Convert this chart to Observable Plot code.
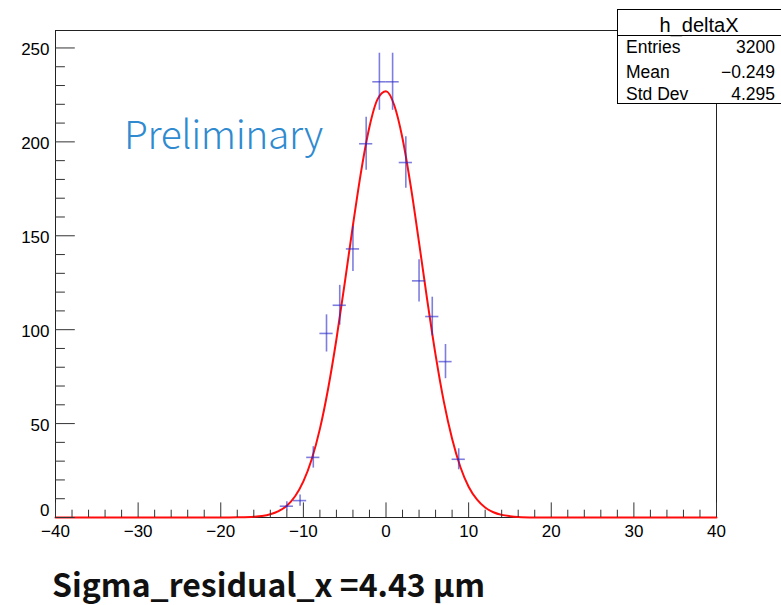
<!DOCTYPE html>
<html><head><meta charset="utf-8">
<script src="https://cdn.jsdelivr.net/npm/d3@7"></script>
<script src="https://cdn.jsdelivr.net/npm/@observablehq/plot@0.6"></script>
<style>
body{margin:0;background:#fff;}
#wrap{position:relative;width:781px;height:605px;overflow:hidden;background:#fff;}
#chart svg{display:block;}
#stats{position:absolute;left:617px;top:9px;width:180px;height:93px;border:1px solid #000;background:#fff;font-family:"Liberation Sans",Arial,sans-serif;color:#000;}
#stats div{position:absolute;white-space:nowrap;}
#stats .t{left:0;width:162px;text-align:center;font-size:20px;line-height:22px;top:3.8px;}
#stats .k{left:8px;font-size:17.5px;line-height:20px;}
#stats .v{left:0;width:157px;text-align:right;font-size:17.5px;line-height:20px;}
#stats .sep{left:0;width:180px;top:25px;height:0;border-top:1px solid #000;}
#prelim{position:absolute;left:124px;top:112px;font-family:"Noto Sans CJK SC","Noto Sans",sans-serif;font-weight:300;font-size:39px;line-height:41px;letter-spacing:-0.4px;color:#2f8ad0;white-space:nowrap;}
#caption{font-family:"Noto Sans CJK SC","Noto Sans",sans-serif;font-weight:700;font-size:32px;line-height:34px;color:#111;padding-left:52px;white-space:nowrap;margin-top:16px;}
</style></head>
<body>
<div id="wrap">
  <div id="chart"></div>
  <div id="prelim"></div>
  <div id="stats"></div>
  <div id="caption"></div>
</div>
<script>
// Histogram (bin centers, counts, errors)
const binCenters = [-12.0, -10.4, -8.8, -7.2, -5.6, -4.0, -2.4, -0.8, 0.8, 2.4, 4.0, 5.6, 7.2, 8.8];
const binCounts  = [6, 9, 32, 98, 113, 143, 199, 232, 232, 189, 126, 107, 83, 31];
const binErrors  = [2.4, 3.0, 5.7, 9.9, 10.6, 12.0, 14.1, 15.2, 15.2, 13.7, 11.2, 10.3, 9.1, 5.6];
const binHalfWidth = 0.8;

// Fit curve points
const fitX = [-40, -20, -18, -16, -15, -14, -13, -12, -11, -10, -9, -8, -7, -6, -5, -4, -3, -2, -1, 0, 1, 2, 3, 4, 5, 6, 7, 8, 9, 10, 11, 12, 13, 14, 15, 16, 18, 20, 40];
const fitY = [0, 0, 0.1, 0.4, 0.8, 1.7, 3.4, 6.3, 11.3, 19.2, 30.9, 47.2, 68.7, 94.9, 124.7, 155.6, 184.6, 208.1, 222.9, 226.9, 219.5, 201.8, 176.3, 146.4, 115.5, 86.6, 61.7, 41.9, 26.9, 16.4, 9.6, 5.3, 2.8, 1.4, 0.7, 0.3, 0.05, 0, 0];

// Axes
const xDomain = [-40, 40];
const yDomain = [0, 259.3];
const xMajorTicks = [-40, -30, -20, -10, 0, 10, 20, 30, 40];
const xMinorTicks = [-38, -36, -34, -32, -28, -26, -24, -22, -18, -16, -14, -12, -8, -6, -4, -2, 2, 4, 6, 8, 12, 14, 16, 18, 22, 24, 26, 28, 32, 34, 36, 38];
const yMajorTicks = [0, 50, 100, 150, 200, 250];
const yMinorTicks = [10, 20, 30, 40, 60, 70, 80, 90, 110, 120, 130, 140, 160, 170, 180, 190, 210, 220, 230, 240];

// Texts
const statsTitle = "h_deltaX";
const statsKeys = ["Entries", "Mean", "Std Dev"];
const statsValues = ["3200", "\u22120.249", "4.295"];
const watermark = "Preliminary";
const captionText = "Sigma_residual_x =4.43 \u03bcm";

const histData = binCenters.map((c, i) => ({x: c, y: binCounts[i], e: binErrors[i]}));
const fitData = fitX.map((x, i) => ({x, y: fitY[i]}));

const blank = () => "";
const crossStyle = {stroke: "#2828c8", strokeOpacity: 0.6, strokeWidth: 1.6};

const chart = Plot.plot({
  width: 781,
  height: 550,
  marginLeft: 55,
  marginRight: 65,
  marginTop: 30,
  marginBottom: 33,
  x: {domain: xDomain, label: null},
  y: {domain: yDomain, label: null},
  style: {fontFamily: "'Liberation Sans', Arial, sans-serif", fontSize: "17px", color: "#000", background: "#fff", overflow: "visible"},
  marks: [
    Plot.frame({stroke: "#222", strokeWidth: 1}),
    Plot.line(fitData, {x: "x", y: "y", stroke: "#ff0d0d", strokeWidth: 2, curve: "monotone-x"}),
    Plot.ruleX(histData, {x: "x", y1: d => d.y - d.e, y2: d => d.y + d.e, ...crossStyle}),
    Plot.ruleY(histData, {y: "y", x1: d => d.x - binHalfWidth, x2: d => d.x + binHalfWidth, ...crossStyle}),
    Plot.axisX({ticks: xMajorTicks, tickSize: -14.6, tickFormat: blank, label: null, stroke: "#333"}),
    Plot.axisX({ticks: xMinorTicks, tickSize: -7.3, tickFormat: blank, label: null, stroke: "#333"}),
    Plot.axisX({ticks: xMajorTicks, tickSize: 0, tickPadding: 7, label: null, fontSize: 17}),
    Plot.axisY({ticks: yMajorTicks, tickSize: -19.8, tickFormat: blank, label: null, stroke: "#333"}),
    Plot.axisY({ticks: yMinorTicks, tickSize: -9.9, tickFormat: blank, label: null, stroke: "#333"}),
    Plot.axisY({ticks: yMajorTicks.filter(t => t !== 0), tickSize: 0, tickPadding: 6, dy: 2, label: null, fontSize: 17}),
    Plot.axisY({ticks: [0], tickSize: 0, tickPadding: 6, dy: -7, label: null, fontSize: 17})
  ]
});
document.getElementById("chart").appendChild(chart);

document.getElementById("prelim").textContent = watermark;

// stats box
const st = document.getElementById("stats");
const tdiv = document.createElement("div"); tdiv.className = "t"; tdiv.textContent = statsTitle; st.appendChild(tdiv);
const sep = document.createElement("div"); sep.className = "sep"; st.appendChild(sep);
const rowTops = [27.2, 51.6, 74];
statsKeys.forEach((k, i) => {
  const a = document.createElement("div"); a.className = "k"; a.style.top = rowTops[i] + "px"; a.textContent = k; st.appendChild(a);
  const b = document.createElement("div"); b.className = "v"; b.style.top = rowTops[i] + "px"; b.textContent = statsValues[i]; st.appendChild(b);
});

document.getElementById("caption").textContent = captionText;
</script>
</body></html>
